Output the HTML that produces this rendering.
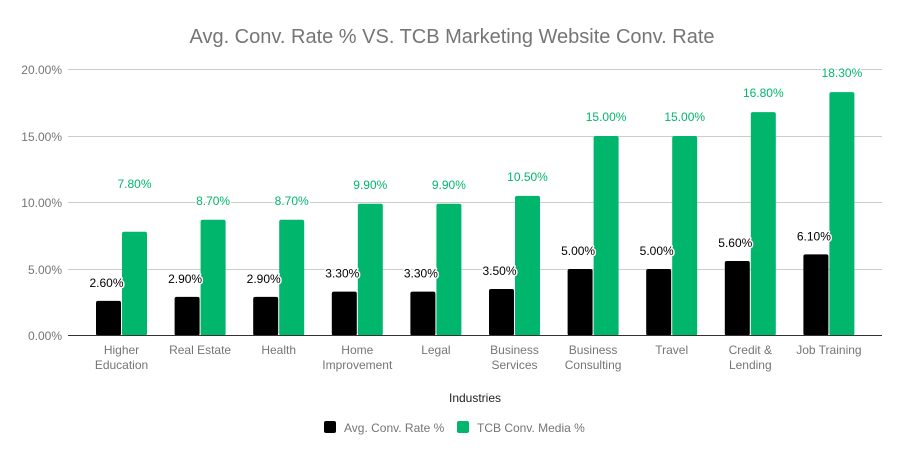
<!DOCTYPE html>
<html><head><meta charset="utf-8"><style>
html,body{margin:0;padding:0;background:#fff}
svg{display:block;font-family:"Liberation Sans",sans-serif}
.ax{fill:#757575;font-size:12px}
.lb{font-size:12px;paint-order:stroke;stroke:#fff;stroke-width:3px;stroke-linejoin:round;text-anchor:middle}
.k{fill:#000}.g{fill:#00b66c}
.cat text{text-anchor:middle}
</style></head><body>
<svg width="905" height="458" viewBox="0 0 905 458" xmlns="http://www.w3.org/2000/svg">
<text x="452" y="43" text-anchor="middle" fill="#757575" font-size="20">Avg. Conv. Rate % VS. TCB Marketing Website Conv. Rate</text>
<g stroke="#cccccc" stroke-width="1">
<line x1="68" x2="882" y1="69.5" y2="69.5"/><line x1="68" x2="882" y1="136.5" y2="136.5"/>
<line x1="68" x2="882" y1="202.5" y2="202.5"/><line x1="68" x2="882" y1="269.5" y2="269.5"/>
</g>
<g class="ax" text-anchor="end">
<text x="62" y="74">20.00%</text><text x="62" y="141">15.00%</text><text x="62" y="207">10.00%</text><text x="62" y="274">5.00%</text><text x="62" y="340">0.00%</text>
</g>
<g class="k">
<rect x="96" y="300.9" width="25" height="34.6" rx="2"/>
<rect x="174.6" y="296.9" width="25" height="38.6" rx="2"/>
<rect x="253.2" y="296.9" width="25" height="38.6" rx="2"/>
<rect x="331.8" y="291.6" width="25" height="43.9" rx="2"/>
<rect x="410.4" y="291.6" width="25" height="43.9" rx="2"/>
<rect x="489" y="289" width="25" height="46.5" rx="2"/>
<rect x="567.6" y="269" width="25" height="66.5" rx="2"/>
<rect x="646.2" y="269" width="25" height="66.5" rx="2"/>
<rect x="724.8" y="261" width="25" height="74.5" rx="2"/>
<rect x="803.4" y="254.4" width="25" height="81.1" rx="2"/>
</g>
<g class="g">
<rect x="122" y="231.8" width="25" height="103.7" rx="2"/>
<rect x="200.6" y="219.8" width="25" height="115.7" rx="2"/>
<rect x="279.2" y="219.8" width="25" height="115.7" rx="2"/>
<rect x="357.8" y="203.8" width="25" height="131.7" rx="2"/>
<rect x="436.4" y="203.8" width="25" height="131.7" rx="2"/>
<rect x="515" y="195.9" width="25" height="139.6" rx="2"/>
<rect x="593.6" y="136" width="25" height="199.5" rx="2"/>
<rect x="672.2" y="136" width="25" height="199.5" rx="2"/>
<rect x="750.8" y="112.1" width="25" height="223.4" rx="2"/>
<rect x="829.4" y="92.1" width="25" height="243.4" rx="2"/>
</g>
<g>
<text class="lb k" x="106.5" y="287">2.60%</text>
<text class="lb k" x="185.1" y="283">2.90%</text>
<text class="lb k" x="263.7" y="283">2.90%</text>
<text class="lb k" x="342.3" y="277.6">3.30%</text>
<text class="lb k" x="420.9" y="277.6">3.30%</text>
<text class="lb k" x="499.5" y="275">3.50%</text>
<text class="lb k" x="578.1" y="255">5.00%</text>
<text class="lb k" x="656.7" y="255">5.00%</text>
<text class="lb k" x="735.3" y="247">5.60%</text>
<text class="lb k" x="813.9" y="240.4">6.10%</text>
<text class="lb g" x="134.5" y="188">7.80%</text>
<text class="lb g" x="213.1" y="204.8">8.70%</text>
<text class="lb g" x="291.7" y="204.8">8.70%</text>
<text class="lb g" x="370.3" y="188.8">9.90%</text>
<text class="lb g" x="448.9" y="188.8">9.90%</text>
<text class="lb g" x="527.5" y="180.9">10.50%</text>
<text class="lb g" x="606.1" y="121">15.00%</text>
<text class="lb g" x="684.7" y="121">15.00%</text>
<text class="lb g" x="763.3" y="97.1">16.80%</text>
<text class="lb g" x="841.9" y="77.1">18.30%</text>
</g>
<g class="ax cat">
<text x="121.5" y="354">Higher</text><text x="121.5" y="369">Education</text>
<text x="200.1" y="354">Real Estate</text>
<text x="278.7" y="354">Health</text>
<text x="357.3" y="354">Home</text><text x="357.3" y="369">Improvement</text>
<text x="435.9" y="354">Legal</text>
<text x="514.5" y="354">Business</text><text x="514.5" y="369">Services</text>
<text x="593.1" y="354">Business</text><text x="593.1" y="369">Consulting</text>
<text x="671.7" y="354">Travel</text>
<text x="750.3" y="354">Credit &amp;</text><text x="750.3" y="369">Lending</text>
<text x="828.9" y="354">Job Training</text>
</g>
<line x1="68" x2="882" y1="335.5" y2="335.5" stroke="#333" stroke-width="1"/>
<text x="475" y="402" text-anchor="middle" fill="#222" font-size="12">Industries</text>
<rect x="324" y="421" width="12" height="12" rx="2" fill="#000"/>
<text x="344" y="432" class="ax">Avg. Conv. Rate %</text>
<rect x="457" y="421" width="12" height="12" rx="2" fill="#00b66c"/>
<text x="477" y="432" class="ax">TCB Conv. Media %</text>
</svg>
</body></html>
